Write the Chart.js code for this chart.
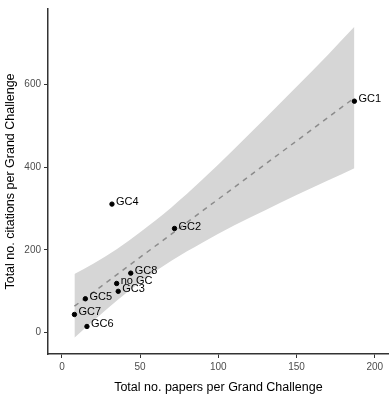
<!DOCTYPE html>
<html>
<head>
<meta charset="utf-8">
<script src="https://cdn.jsdelivr.net/npm/chart.js@4"></script>
<style>
  html, body { margin: 0; padding: 0; background: #fff; }
  #wrap { width: 392px; height: 400px; }
</style>
</head>
<body>
<div id="wrap"><canvas id="gcChart"></canvas></div>
<script>
// Grand Challenges: papers vs citations
const gcLabels = ['GC1', 'GC2', 'GC3', 'GC4', 'GC5', 'GC6', 'GC7', 'GC8', 'no GC'];
const papers = [187, 72, 36, 32, 15, 16, 8, 44, 35];
const citations = [560, 252, 100, 311, 82, 15, 44, 144, 119];

// fitted line and its confidence band
const fitX = [8, 187];
const fitY = [64, 568];
const bandX = [8, 20, 35, 50, 70, 90, 110, 130, 150, 170, 187];
const bandLow = [-12, 28, 77, 122, 174, 218, 259, 296, 333, 368, 398];
const bandHigh = [142, 167, 202, 243, 303, 371, 444, 519, 595, 672, 740];

const xTicks = [0, 50, 100, 150, 200];
const yTicks = [0, 200, 400, 600];

const font = '"Liberation Sans", Arial, sans-serif';
const toXY = (xs, ys) => xs.map((x, i) => ({ x: x, y: ys[i] }));

const pointLabels = {
    id: 'pointLabels',
    afterDatasetsDraw(chart) {
        const { ctx, scales } = chart;
        ctx.save();
        ctx.fillStyle = '#000';
        ctx.font = '11px ' + font;
        ctx.textAlign = 'left';
        ctx.textBaseline = 'alphabetic';
        gcLabels.forEach((label, i) => {
            const px = scales.x.getPixelForValue(papers[i]);
            const py = scales.y.getPixelForValue(citations[i]);
            ctx.fillText(label, px + 4, py + 1);
        });
        ctx.restore();
    }
};

new Chart(document.getElementById('gcChart'), {
    type: 'scatter',
    data: {
        datasets: [
            {
                label: 'Grand Challenges',
                data: toXY(papers, citations),
                backgroundColor: '#000',
                borderColor: '#000',
                pointRadius: 2.2,
                pointHoverRadius: 2.2
            },
            {
                label: 'Fit',
                data: toXY(fitX, fitY),
                showLine: true,
                borderColor: '#8c8c8c',
                borderWidth: 1.5,
                borderDash: [5, 5],
                pointRadius: 0,
                fill: false
            },
            {
                label: 'Upper',
                data: toXY(bandX, bandHigh),
                showLine: true,
                borderWidth: 0,
                borderColor: 'rgba(0,0,0,0)',
                backgroundColor: '#d6d6d6',
                pointRadius: 0,
                cubicInterpolationMode: 'monotone',
                fill: '+1'
            },
            {
                label: 'Lower',
                data: toXY(bandX, bandLow),
                showLine: true,
                borderWidth: 0,
                borderColor: 'rgba(0,0,0,0)',
                pointRadius: 0,
                cubicInterpolationMode: 'monotone',
                fill: false
            }
        ]
    },
    options: {
        responsive: true,
        maintainAspectRatio: false,
        animation: false,
        layout: {
            padding: { top: 5, right: 2, left: 0, bottom: 2 }
        },
        plugins: {
            legend: { display: false },
            tooltip: { enabled: false },
            title: { display: false }
        },
        scales: {
            x: {
                type: 'linear',
                min: -8.9,
                max: 209,
                afterBuildTicks: s => { s.ticks = xTicks.map(v => ({ value: v })); },
                afterFit: s => { s.height = 44; },
                grid: { drawOnChartArea: false, drawTicks: true, tickLength: 4, color: '#333' },
                border: { display: true, color: '#333', width: 1.5 },
                ticks: { color: '#4d4d4d', font: { size: 10, family: font }, padding: 3, maxRotation: 0 },
                title: {
                    display: true,
                    text: 'Total no. papers per Grand Challenge',
                    color: '#000',
                    font: { size: 12.5, family: font },
                    padding: { top: 4, bottom: 3 }
                }
            },
            y: {
                type: 'linear',
                min: -51.6,
                max: 783,
                afterBuildTicks: s => { s.ticks = yTicks.map(v => ({ value: v })); },
                afterFit: s => { s.width = 48; },
                grid: { drawOnChartArea: false, drawTicks: true, tickLength: 4, color: '#333' },
                border: { display: true, color: '#333', width: 1.5 },
                ticks: { color: '#4d4d4d', font: { size: 10, family: font }, padding: 3 },
                title: {
                    display: true,
                    text: 'Total no. citations per Grand Challenge',
                    color: '#000',
                    font: { size: 12.5, family: font },
                    padding: { top: 3, bottom: 4 }
                }
            }
        }
    },
    plugins: [pointLabels]
});
</script>
</body>
</html>
